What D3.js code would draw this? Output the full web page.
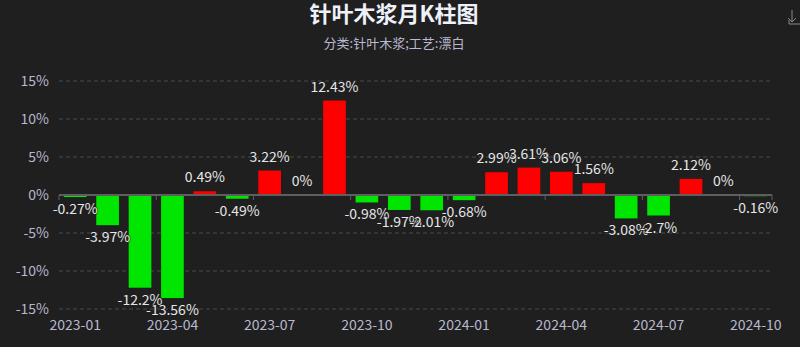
<!DOCTYPE html>
<html>
<head>
<meta charset="utf-8">
<script src="https://cdn.jsdelivr.net/npm/d3@7/dist/d3.min.js"></script>
<style>
  body { margin: 0; background: #1f1f1f; }
  svg text { font-family: "Noto Sans CJK SC", "Noto Sans", sans-serif; }
</style>
</head>
<body>
<script>
// monthly change, %
var months = ["2023-01","2023-02","2023-03","2023-04","2023-05","2023-06","2023-07","2023-08",
              "2023-09","2023-10","2023-11","2023-12","2024-01","2024-02","2024-03","2024-04",
              "2024-05","2024-06","2024-07","2024-08","2024-09","2024-10"];
var changes = [-0.27, -3.97, -12.2, -13.56, 0.49, -0.49, 3.22, 0, 12.43, -0.98, -1.97, -2.01,
               -0.68, 2.99, 3.61, 3.06, 1.56, -3.08, -2.7, 2.12, 0, -0.16];
var yTicks = [-15, -10, -5, 0, 5, 10, 15];

var width = 800, height = 347;
var margin = {top: 81, right: 28, bottom: 38, left: 59};

var svg = d3.select("body").append("svg")
  .attr("width", width)
  .attr("height", height);

svg.append("rect").attr("width", width).attr("height", height).attr("fill", "#1f1f1f");

// title + subtitle
svg.append("text")
  .attr("x", 394).attr("y", 22)
  .attr("text-anchor", "middle")
  .attr("fill", "#eef1fa")
  .style("font-size", "22px")
  .style("font-weight", "bold")
  .text("针叶木浆月K柱图");

svg.append("text")
  .attr("x", 394).attr("y", 48)
  .attr("text-anchor", "middle")
  .attr("fill", "#b9b8ce")
  .style("font-size", "13px")
  .text("分类:针叶木浆;工艺:漂白");

// little download icon, top right
svg.append("path")
  .attr("d", "M792,10 V22 M788,18 L792,22 L796,18 M789,20 V24 H800")
  .attr("fill", "none")
  .attr("stroke", "#888")
  .attr("stroke-width", 1);

var x = d3.scaleBand()
  .domain(months)
  .range([margin.left, width - margin.right])
  .paddingInner(0.3)
  .paddingOuter(0.15);

var band = d3.scaleBand()
  .domain(months)
  .range([margin.left, width - margin.right]);

var y = d3.scaleLinear()
  .domain([-15, 15])
  .range([height - margin.bottom, margin.top]);

// grid lines
svg.append("g")
  .selectAll("line")
  .data(yTicks)
  .enter()
  .append("line")
  .attr("x1", margin.left)
  .attr("x2", width - margin.right)
  .attr("y1", function(d) { return y(d); })
  .attr("y2", function(d) { return y(d); })
  .attr("stroke", "#4a4a4a")
  .attr("stroke-dasharray", "4,3");

// y labels
svg.append("g")
  .selectAll("text")
  .data(yTicks)
  .enter()
  .append("text")
  .attr("x", margin.left - 10)
  .attr("y", function(d) { return y(d) + 5; })
  .attr("text-anchor", "end")
  .attr("fill", "#b9b8ce")
  .style("font-size", "14px")
  .text(function(d) { return d + "%"; });

// bars
svg.append("g")
  .selectAll("rect")
  .data(changes)
  .enter()
  .append("rect")
  .attr("x", function(d, i) { return x(months[i]); })
  .attr("width", x.bandwidth())
  .attr("y", function(d) { return y(Math.max(d, 0)); })
  .attr("height", function(d) { return Math.abs(y(d) - y(0)); })
  .attr("fill", function(d) { return d >= 0 ? "#ff0000" : "#00e600"; });

// x axis line + ticks
var axisY = y(0);
svg.append("line")
  .attr("x1", margin.left).attr("x2", width - margin.right)
  .attr("y1", axisY).attr("y2", axisY)
  .attr("stroke", "#5e5e5e")
  .attr("stroke-width", 2);

var tickIdx = months.map(function(m, i) { return i; }).filter(function(i) { return i % 3 === 0; });
svg.append("g")
  .selectAll("line")
  .data(tickIdx.concat([months.length]))
  .enter()
  .append("line")
  .attr("x1", function(i) { return i < months.length ? band(months[i]) : band.range()[1]; })
  .attr("x2", function(i) { return i < months.length ? band(months[i]) : band.range()[1]; })
  .attr("y1", axisY).attr("y2", axisY + 5)
  .attr("stroke", "#5e5e5e")
  .attr("stroke-width", 1);

svg.append("g")
  .selectAll("text")
  .data(tickIdx)
  .enter()
  .append("text")
  .attr("x", function(i) { return band(months[i]) + band.bandwidth() / 2; })
  .attr("y", 330)
  .attr("text-anchor", "middle")
  .attr("fill", "#b9b8ce")
  .style("font-size", "14px")
  .text(function(i) { return months[i]; });

// value labels
svg.append("g")
  .selectAll("text")
  .data(changes)
  .enter()
  .append("text")
  .attr("x", function(d, i) { return band(months[i]) + band.bandwidth() / 2; })
  .attr("y", function(d) { return d >= 0 ? y(d) - 9 : y(d) + 17; })
  .attr("text-anchor", "middle")
  .attr("fill", "#e6e6e6")
  .attr("stroke", "rgba(31,31,31,0.6)")
  .attr("stroke-width", 2)
  .style("paint-order", "stroke")
  .style("font-size", "14px")
  .text(function(d) { return d + "%"; });
</script>
</body>
</html>
